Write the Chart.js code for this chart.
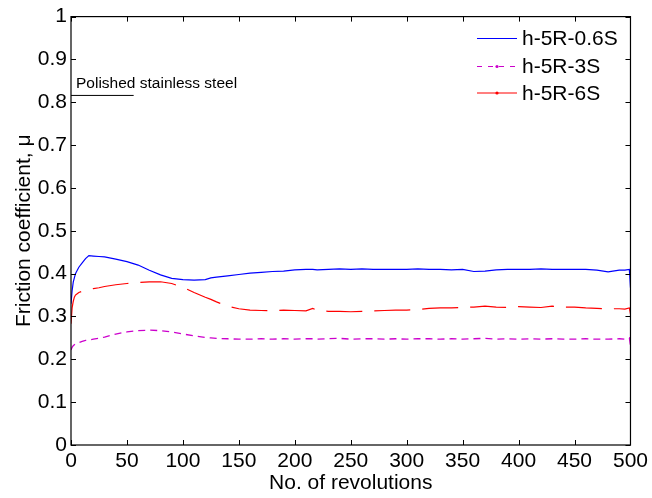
<!DOCTYPE html>
<html>
<head>
<meta charset="utf-8">
<script src="https://cdn.jsdelivr.net/npm/chart.js@4.4.1/dist/chart.umd.min.js"></script>
<style>
html,body{margin:0;padding:0;background:#fff;}
#wrap{width:652px;height:498px;}
</style>
</head>
<body>
<div id="wrap"><canvas id="c" width="652" height="498"></canvas></div>
<script>
// ---- data ----
const revs = [0,1,2,3,4,5,7,10,13,16,20,25,30,40,50,60,70,80,90,100,110,120,125,130,140,150,160,170,180,190,200,210,216,220,230,240,250,260,270,280,290,300,310,320,330,340,350,360,370,380,390,400,410,420,430,440,450,460,470,480,490,495,499,500];
const seriesLabels = ["h-5R-0.6S","h-5R-3S","h-5R-6S"];
const mu_06S = [0.33,0.36,0.38,0.39,0.40,0.405,0.415,0.425,0.435,0.442,0.441,0.44,0.439,0.434,0.428,0.420,0.408,0.397,0.389,0.386,0.385,0.386,0.390,0.392,0.395,0.398,0.401,0.403,0.405,0.406,0.409,0.410,0.410,0.409,0.410,0.411,0.410,0.411,0.410,0.410,0.410,0.410,0.411,0.410,0.410,0.409,0.410,0.405,0.406,0.409,0.410,0.410,0.410,0.411,0.410,0.410,0.410,0.410,0.408,0.404,0.408,0.408,0.410,0.367];
const mu_3S = [0.222,0.228,0.232,0.234,0.236,0.237,0.239,0.242,0.244,0.245,0.247,0.249,0.252,0.259,0.264,0.267,0.268,0.267,0.264,0.259,0.255,0.251,0.250,0.249,0.248,0.247,0.247,0.248,0.247,0.248,0.247,0.248,0.248,0.247,0.248,0.249,0.247,0.248,0.248,0.247,0.248,0.247,0.248,0.248,0.247,0.248,0.247,0.248,0.249,0.247,0.248,0.247,0.248,0.247,0.248,0.247,0.247,0.248,0.247,0.247,0.248,0.247,0.250,0.232];
const mu_6S = [0.283,0.320,0.335,0.345,0.350,0.352,0.356,0.359,0.361,0.363,0.365,0.367,0.370,0.374,0.377,0.379,0.381,0.381,0.377,0.368,0.356,0.345,0.340,0.334,0.324,0.318,0.315,0.314,0.313,0.315,0.314,0.313,0.319,0.314,0.312,0.312,0.311,0.312,0.313,0.314,0.315,0.315,0.316,0.319,0.320,0.320,0.321,0.322,0.324,0.322,0.321,0.323,0.322,0.321,0.324,0.322,0.322,0.320,0.319,0.318,0.318,0.317,0.320,0.306];
const xTicks = [0,50,100,150,200,250,300,350,400,450,500];
const yTicks = [0,0.1,0.2,0.3,0.4,0.5,0.6,0.7,0.8,0.9,1];
const annotationText = "Polished stainless steel";
const annotationLineEnd = 56;   // revolutions
const annotationLineY = 0.816;  // mu

const toPts = arr => revs.map((r,i)=>({x:r,y:arr[i]}));

const FONT = "'Liberation Sans', Arial, sans-serif";

const boxTicksPlugin = {
  id:'boxTicks',
  afterDatasetsDraw(chart){
    const {ctx, chartArea:a, scales:{x,y}} = chart;
    ctx.save();
    ctx.strokeStyle='#000';
    ctx.lineWidth=1.2;
    ctx.setLineDash([]);
    ctx.strokeRect(a.left, a.top, a.right-a.left, a.bottom-a.top);
    ctx.lineWidth=1;
    const L=5;
    ctx.beginPath();
    xTicks.forEach(v=>{
      const px=Math.round(x.getPixelForValue(v))+0.5;
      ctx.moveTo(px,a.bottom); ctx.lineTo(px,a.bottom-L);
      ctx.moveTo(px,a.top); ctx.lineTo(px,a.top+L);
    });
    yTicks.forEach(v=>{
      const py=Math.round(y.getPixelForValue(v))+0.5;
      ctx.moveTo(a.left,py); ctx.lineTo(a.left+L,py);
      ctx.moveTo(a.right,py); ctx.lineTo(a.right-L,py);
    });
    ctx.stroke();

    // annotation
    const ly = y.getPixelForValue(annotationLineY);
    ctx.beginPath();
    ctx.moveTo(a.left, ly); ctx.lineTo(x.getPixelForValue(annotationLineEnd), ly);
    ctx.stroke();
    ctx.fillStyle='#000';
    ctx.font = "15.5px " + FONT;
    ctx.textAlign='left'; ctx.textBaseline='alphabetic';
    ctx.fillText(annotationText, a.left+5, ly-7);

    // legend
    const ds = chart.data.datasets;
    const rowsY = [38.5, 66.5, 93];
    ctx.font = "21px " + FONT;
    ds.forEach((d,i)=>{
      const yy = rowsY[i];
      ctx.strokeStyle=d.borderColor;
      ctx.lineWidth=1.2;
      ctx.setLineDash(d.legendDash||[]);
      ctx.beginPath(); ctx.moveTo(477,yy); ctx.lineTo(517,yy); ctx.stroke();
      ctx.setLineDash([]);
      if(d.legendDot){
        ctx.fillStyle=d.borderColor;
        ctx.beginPath(); ctx.arc(497,yy,1.6,0,Math.PI*2); ctx.fill();
      }
      ctx.fillStyle='#000';
      ctx.textBaseline='middle';
      ctx.fillText(d.label, 522, yy+1);
    });
    ctx.restore();
  }
};

new Chart(document.getElementById('c'), {
  type:'line',
  data:{
    datasets:[
      {label:seriesLabels[0], data:toPts(mu_06S), borderColor:'#0000ff', borderWidth:1.2, pointRadius:0, tension:0, fill:false, legendDash:[], legendDot:false},
      {label:seriesLabels[1], data:toPts(mu_3S), borderColor:'#cc00cc', borderWidth:1.3, borderDash:[7,5], pointRadius:0, tension:0, fill:false, legendDash:[5,6], legendDot:true},
      {label:seriesLabels[2], data:toPts(mu_6S), borderColor:'#ff0000', borderWidth:1.2, borderDash:[36,12], pointRadius:0, tension:0, fill:false, legendDash:[], legendDot:true}
    ]
  },
  options:{
    responsive:false,
    animation:false,
    devicePixelRatio:1,
    layout:{padding:{top:14,right:19,left:0,bottom:0}},
    plugins:{legend:{display:false}, tooltip:{enabled:false}},
    scales:{
      x:{
        type:'linear', min:0, max:500,
        afterBuildTicks(s){ s.ticks = xTicks.map(v=>({value:v})); },
        afterFit(s){ s.height = 53; },
        grid:{display:false, drawTicks:false},
        border:{display:false},
        ticks:{color:'#000', font:{family:FONT, size:21}, padding:4, maxRotation:0, autoSkip:false},
        title:{display:true, text:'No. of revolutions', color:'#000', font:{family:FONT, size:21}, padding:{top:0,bottom:2}}
      },
      y:{
        type:'linear', min:0, max:1,
        afterBuildTicks(s){ s.ticks = yTicks.map(v=>({value:v})); },
        afterFit(s){ s.width = 71; },
        grid:{display:false, drawTicks:false},
        border:{display:false},
        ticks:{color:'#000', font:{family:FONT, size:21}, padding:4, autoSkip:false, callback:v=>String(+v.toFixed(1))},
        title:{display:true, text:'Friction coefficient, μ', color:'#000', font:{family:FONT, size:21}, padding:{top:12,bottom:0}}
      }
    }
  },
  plugins:[boxTicksPlugin]
});
</script>
</body>
</html>
